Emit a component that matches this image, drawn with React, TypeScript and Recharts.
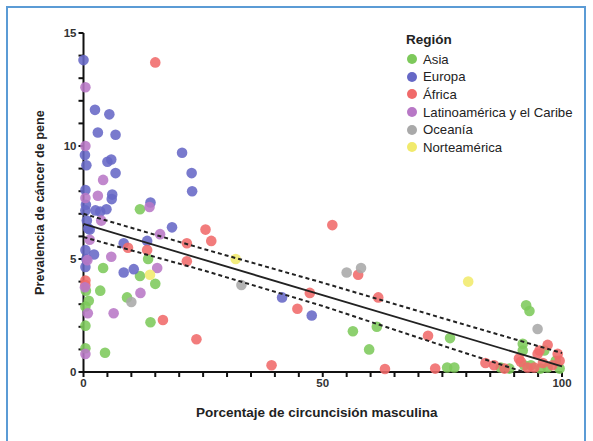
import { ScatterChart, Scatter, XAxis, YAxis, Legend, Label } from 'recharts';

type Pt = { x: number; y: number };

const toPts = (rows: number[][]): Pt[] => rows.map(([x, y]) => ({ x, y }));

const asia = toPts([
  [11.8, 7.2], [13.5, 5.0], [11.8, 4.25], [15, 3.9], [4.1, 4.6], [3.5, 3.6], [9.1, 3.3],
  [14, 2.2], [4.5, 0.85], [1.1, 3.15], [0.5, 3.6], [0.4, 2.9], [0.4, 2.05], [0.4, 1.05],
  [56.3, 1.8], [59.7, 1.0], [61.3, 2.0], [76, 0.2], [77.5, 0.2], [76.6, 1.5], [92.5, 2.95],
  [93.2, 2.7], [91.8, 1.25], [91.8, 0.95], [92.1, 0.3], [93.5, 0.3], [96.3, 0.95],
  [97, 0.2], [98.7, 0.5], [87.2, 0.2], [89, 0.15], [95.5, 0.15], [99.5, 0.15],
]);

const europa = toPts([
  [0, 13.8], [2.4, 11.6], [5.4, 11.4], [3.0, 10.6], [6.7, 10.5], [0.3, 9.6], [0.6, 9.15],
  [5, 9.3], [5.8, 9.4], [6.7, 8.8], [20.6, 9.7], [22.6, 8.8], [22.7, 8.0], [0.4, 8.05],
  [6, 7.85], [5.9, 7.65], [14, 7.5], [0.5, 7.4], [0.4, 7.15], [2.5, 7.15], [3.5, 7.1],
  [4.8, 7.2], [0.7, 6.7], [1, 6.35], [1.3, 6.3], [18.5, 6.4], [8.4, 5.7], [13.3, 5.8],
  [0.4, 5.4], [2.2, 5.2], [0.6, 5.0], [0.4, 4.65], [8.4, 4.4], [10.5, 4.55], [41.5, 3.3],
  [47.7, 2.5],
]);

const africa = toPts([
  [15, 13.7], [25.5, 6.3], [26.7, 5.8], [21.6, 5.7], [21.6, 4.9], [9.3, 5.5], [13.3, 5.4],
  [0.4, 4.05], [0.4, 3.85], [16.6, 2.3], [23.6, 1.45], [52, 6.5], [57.4, 4.3], [47.3, 3.5],
  [44.7, 2.8], [61.6, 3.3], [39.3, 0.3], [72, 1.6], [63, 0.13], [73.5, 0.15], [84, 0.4],
  [85.8, 0.3], [91, 0.6], [91.4, 0.45], [94.9, 0.8], [95.3, 0.95], [97, 1.2], [99.1, 0.8],
  [99.5, 0.5], [94.2, 0.2], [92.8, 0.2], [88, 0.15], [96, 0.4], [98, 0.3],
]);

const latam = toPts([
  [0.4, 12.6], [0.4, 10.0], [4.1, 8.5], [3, 7.8], [0.4, 7.7], [13.8, 7.3], [3.7, 6.7],
  [16, 6.1], [1.3, 5.85], [5.8, 5.1], [0.8, 4.95], [15.4, 4.6], [11.9, 3.5], [6.3, 2.6],
  [0.9, 2.6], [0.4, 0.8], [0.3, 3.75],
]);

const oceania = toPts([[10, 3.1], [33, 3.85], [55, 4.4], [58, 4.6], [94.9, 1.9]]);

const norteamerica = toPts([[13.9, 4.3], [31.8, 5.0], [80.4, 4.0]]);

// regression line and its bands
const fitLine = toPts([[0, 6.55], [100, 0.25]]);
const upperBand = toPts([[0, 7.0], [25, 5.45], [50, 3.95], [76, 2.32], [100, 0.84]]);
const lowerBand = toPts([[0, 5.97], [25, 4.5], [50, 2.92], [76, 1.1], [92, 0]]);

const xTicks = [0, 5, 10, 15, 20, 25, 30, 35, 40, 45, 50, 55, 60, 65, 70, 75, 80, 85, 90, 95, 100];
const yTicks = [0, 1, 2, 3, 4, 5, 6, 7, 8, 9, 10, 11, 12, 13, 14, 15];

const series = [
  { name: 'Asia', data: asia, color: '#7dc95b' },
  { name: 'Europa', data: europa, color: '#6668c6' },
  { name: 'África', data: africa, color: '#f06a6a' },
  { name: 'Latinoamérica y el Caribe', data: latam, color: '#b878c6' },
  { name: 'Oceanía', data: oceania, color: '#a9a9a9' },
  { name: 'Norteamérica', data: norteamerica, color: '#f1ea6c' },
];

const font = '"Liberation Sans", Arial, sans-serif';

const dot = (color: string) => (p: any) => (
  <circle cx={p.cx} cy={p.cy} r={5.3} fill={color} fillOpacity={0.88} />
);

const noDot = () => <g />;

function RegionLegend() {
  return (
    <div style={{ fontFamily: font, color: '#222' }}>
      <div style={{ fontWeight: 'bold', fontSize: 13.5, height: 18.5, marginLeft: 2 }}>Región</div>
      {series.map((s) => (
        <div key={s.name} style={{ display: 'flex', alignItems: 'center', height: 17.6, fontSize: 13.2 }}>
          <span
            style={{
              width: 10,
              height: 10,
              borderRadius: 5,
              background: s.color,
              display: 'inline-block',
              marginLeft: 3,
              marginRight: 6,
            }}
          />
          {s.name}
        </div>
      ))}
    </div>
  );
}

export default function App() {
  return (
    <div style={{ position: 'absolute', left: 0, top: 0, width: 593, height: 441, background: '#fff', overflow: 'hidden' }}>
      <div
        style={{
          position: 'absolute',
          left: 6,
          top: 6,
          width: 580,
          height: 450,
          border: '2px solid #5b9bd5',
          boxSizing: 'border-box',
        }}
      />
      <ScatterChart width={593} height={441} margin={{ top: 33, right: 31, bottom: 0, left: 0 }} style={{ position: 'absolute', left: 0, top: 0 }}>
        <XAxis
          type="number"
          dataKey="x"
          domain={[0, 100]}
          ticks={xTicks}
          interval={0}
          height={69}
          tickFormatter={(v: number) => (v % 50 === 0 ? String(v) : '')}
          stroke="#111"
          strokeWidth={2}
          tickSize={5}
          tick={{ fill: '#333', fontSize: 11.5, fontWeight: 'bold', fontFamily: font }}
        >
          <Label
            value="Porcentaje de circuncisión masculina"
            position="insideBottom"
            offset={24}
            dx={-6}
            style={{ fill: '#222', fontSize: 13.5, fontWeight: 'bold', fontFamily: font }}
          />
        </XAxis>
        <YAxis
          type="number"
          dataKey="y"
          domain={[0, 15]}
          ticks={yTicks}
          interval={0}
          width={83.5}
          tickFormatter={(v: number) => (v % 5 === 0 ? String(v) : '')}
          stroke="#111"
          strokeWidth={2}
          tickSize={5}
          tick={{ fill: '#333', fontSize: 11.5, fontWeight: 'bold', fontFamily: font }}
        >
          <Label
            value="Prevalencia de cáncer de pene"
            angle={-90}
            position="insideLeft"
            offset={39}
            style={{ textAnchor: 'middle', fill: '#222', fontSize: 12.7, fontWeight: 'bold', fontFamily: font }}
          />
        </YAxis>
        <Legend
          layout="vertical"
          align="center"
          verticalAlign="middle"
          content={() => <RegionLegend />}
          wrapperStyle={{ position: 'absolute', left: 404, top: 32, width: 190, height: 130 }}
        />
        {series.map((s) => (
          <Scatter key={s.name} name={s.name} data={s.data} fill={s.color} shape={dot(s.color)} isAnimationActive={false} />
        ))}
        <Scatter
          data={upperBand}
          line={{ stroke: '#222', strokeWidth: 2, strokeDasharray: '4 3' }}
          shape={noDot}
          legendType="none"
          isAnimationActive={false}
        />
        <Scatter
          data={lowerBand}
          line={{ stroke: '#222', strokeWidth: 2, strokeDasharray: '4 3' }}
          shape={noDot}
          legendType="none"
          isAnimationActive={false}
        />
        <Scatter
          data={fitLine}
          line={{ stroke: '#222', strokeWidth: 1.8 }}
          shape={noDot}
          legendType="none"
          isAnimationActive={false}
        />
      </ScatterChart>
    </div>
  );
}
